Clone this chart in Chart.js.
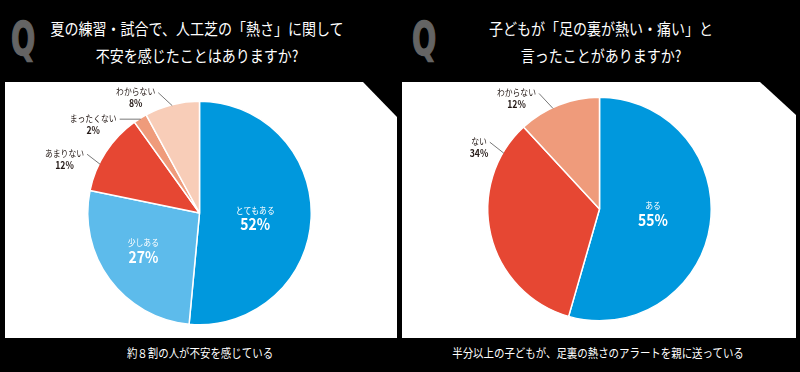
<!DOCTYPE html>
<html>
<head>
<meta charset="utf-8">
<script src="https://cdn.jsdelivr.net/npm/chart.js@4.4.0/dist/chart.umd.min.js"></script>
<style>
  body { margin: 0; background: #000; width: 800px; height: 372px; overflow: hidden; position: relative; font-family: 'Noto Sans CJK JP', sans-serif; }
  .panel { position: absolute; background: #fff; }
  .q { position: absolute; top: 16px; font: bold 46px 'DejaVu Sans', sans-serif; line-height: 46px; color: #646464; transform: scaleX(0.62); transform-origin: left top; -webkit-text-stroke: 1.5px #646464; }
  .title { position: absolute; top: 15px; width: 400px; text-align: center; color: #fff; font-size: 16px; font-weight: 400; line-height: 27px; transform: scaleX(0.875); transform-origin: center top; }
  .foot { position: absolute; top: 344px; width: 400px; text-align: center; color: #fff; font-size: 12px; line-height: 18px; transform: scaleX(0.87); transform-origin: center top; }
  canvas { position: absolute; top: 0; }
</style>
</head>
<body>
<div class="panel" style="left:5px;top:82px;width:392px;height:256px;clip-path:polygon(0 0,358px 0,392px 35px,392px 256px,0 256px)"></div>
<div class="panel" style="left:402px;top:82px;width:394px;height:256px;clip-path:polygon(0 0,358px 0,394px 33px,394px 256px,0 256px)"></div>

<div class="q" style="left:11px">Q</div>
<div class="q" style="left:412px">Q</div>
<div class="title" style="left:-3px">夏の練習・試合で、人工芝の「熱さ」に関して<br>不安を感じたことはありますか?</div>
<div class="title" style="left:401px">子どもが「足の裏が熱い・痛い」と<br>言ったことがありますか?</div>
<div class="foot" style="left:0px">約８割の人が不安を感じている</div>
<div class="foot" style="left:398px">半分以上の子どもが、足裏の熱さのアラートを親に送っている</div>

<canvas id="chartLeft" width="400" height="372" style="left:0"></canvas>
<canvas id="chartRight" width="400" height="372" style="left:400px"></canvas>

<script>
// データ
const labelsLeft = ['とてもある', '少しある', 'あまりない', 'まったくない', 'わからない'];
const valuesLeft = [52, 27, 12, 2, 8];
const labelsRight = ['ある', 'ない', 'わからない'];
const valuesRight = [55, 34, 12];

const colorsLeft = ['#0098dd', '#5dbbeb', '#e64733', '#ef9b7b', '#f8cdb8'];
const colorsRight = ['#0098dd', '#e64733', '#ef9b7b'];

// ラベル配置 (inside: 扇形内, それ以外は引き出し線)
const placeLeft = [
    { inside: true, frac: 0.51, ratio: 0.5 },
    { inside: true, frac: 0.535, ratio: 0.6 },
    { frac: 0.34, dx: -13, dy: -10 },
    { frac: 0.5, dx: -21, dy: 0 },
    { frac: 0.5, dx: -14, dy: -13 }
];
const placeRight = [
    { inside: true, frac: 0.48, ratio: 0.48 },
    { frac: 0.86, dx: -14, dy: -11 },
    { frac: 0.42, dx: -14, dy: -15 }
];

const JP = "'Noto Sans CJK JP', sans-serif";

function drawText(ctx, text, x, y, align, font, color, sx) {
    ctx.save();
    ctx.translate(x, y);
    ctx.scale(sx, 1);
    ctx.font = font;
    ctx.fillStyle = color;
    ctx.textAlign = align;
    ctx.textBaseline = 'middle';
    ctx.fillText(text, 0, 0);
    ctx.restore();
}

const pieLabels = {
    id: 'pieLabels',
    afterDatasetsDraw(chart, args, opts) {
        const ctx = chart.ctx;
        const meta = chart.getDatasetMeta(0);
        const data = chart.data.datasets[0].data;
        meta.data.forEach((arc, i) => {
            const p = opts.place[i];
            const { x, y, startAngle, endAngle, outerRadius } = arc.getProps(['x', 'y', 'startAngle', 'endAngle', 'outerRadius'], true);
            const a = startAngle + (endAngle - startAngle) * p.frac;
            const name = chart.data.labels[i];
            const pct = data[i] + '%';
            if (p.inside) {
                const r = outerRadius * p.ratio;
                const cx = x + Math.cos(a) * r, cy = y + Math.sin(a) * r;
                drawText(ctx, name, cx, cy - 7, 'center', '9px ' + JP, '#fff', 0.87);
                drawText(ctx, pct, cx, cy + 7, 'center', 'bold 16px ' + JP, '#fff', 0.87);
            } else {
                const ex = x + Math.cos(a) * (outerRadius - 1), ey = y + Math.sin(a) * (outerRadius - 1);
                const sx = ex + p.dx, sy = ey + p.dy;
                ctx.save();
                ctx.strokeStyle = '#555';
                ctx.lineWidth = 0.8;
                ctx.beginPath();
                ctx.moveTo(sx, sy);
                ctx.lineTo(ex, ey);
                ctx.stroke();
                ctx.restore();
                const right = sx - 3;
                ctx.save();
                ctx.font = '9px ' + JP;
                const w = ctx.measureText(name).width * 0.87;
                ctx.restore();
                drawText(ctx, name, right, sy - 1, 'right', '9px ' + JP, '#231815', 0.87);
                drawText(ctx, pct, right - w / 2, sy + 11, 'center', 'bold 10px ' + JP, '#231815', 0.87);
            }
        });
    }
};

function makePie(id, labels, values, colors, place, padding) {
    return new Chart(document.getElementById(id), {
        type: 'pie',
        data: {
            labels: labels,
            datasets: [{ data: values, backgroundColor: colors, borderColor: '#fff', borderWidth: 1.5 }]
        },
        options: {
            responsive: false, animation: false, devicePixelRatio: 1,
            layout: { padding: padding },
            plugins: { legend: { display: false }, tooltip: { enabled: false }, pieLabels: { place: place } }
        },
        plugins: [pieLabels]
    });
}

makePie('chartLeft', labelsLeft, valuesLeft, colorsLeft, placeLeft, { left: 87, right: 88, top: 100, bottom: 46 });
makePie('chartRight', labelsRight, valuesRight, colorsRight, placeRight, { left: 87, right: 88, top: 96, bottom: 50 });
</script>
</body>
</html>
